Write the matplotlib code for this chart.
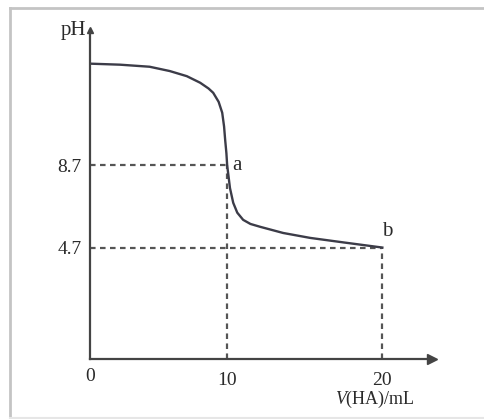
import matplotlib
matplotlib.use('Agg')
matplotlib.rcParams.update({'font.family': 'serif', 'font.serif': ['Liberation Serif'],
                            'mathtext.fontset': 'custom', 'mathtext.it': 'Liberation Serif:italic',
                            'mathtext.rm': 'Liberation Serif', 'font.size': 14})
from matplotlib import pyplot as plt
from matplotlib.lines import Line2D

# titration curve: V(HA) in mL, pH
vol = [1.16, 3.1, 5.0, 6.3, 7.4, 8.26, 8.8, 9.1, 9.45, 9.68, 9.8, 9.87, 9.95, 10.0, 10.06, 10.18, 10.39,
       10.65, 11.03, 11.5, 12.13, 13.61, 15.35, 17.5, 20.0]
ph = [13.66, 13.61, 13.51, 13.3, 13.05, 12.73, 12.45, 12.24, 11.8, 11.27, 10.6, 9.95, 9.3, 8.7, 8.34, 7.6, 6.88,
      6.4, 6.05, 5.85, 5.71, 5.41, 5.17, 4.95, 4.7]
marks = {'a': (10, 8.7), 'b': (20, 4.7)}
xticks = [10, 20]
yticks = [4.7, 8.7]

W, H = 484, 419
fig = plt.figure(figsize=(W/100, H/100), dpi=100)
ax = fig.add_axes([90/W, (H-359)/H, (432-90)/W, (359-30)/H])
ax.set_xlim(1.16, 23.2)
ax.set_ylim(-0.73, 15.3)

axc = '#444444'
txt = '#2a2a2a'
for s in ['top', 'right']:
    ax.spines[s].set_visible(False)
for s in ['left', 'bottom']:
    ax.spines[s].set_color(axc)
    ax.spines[s].set_linewidth(1.6)
ax.plot(1, 0, '>', ms=7, color=axc, transform=ax.transAxes, clip_on=False)
ax.plot(0, 1, '^', ms=5, color=axc, transform=ax.transAxes, clip_on=False)

ax.set_xticks(xticks)
ax.set_yticks(yticks)
ax.set_xticklabels([str(t) for t in xticks])
ax.set_yticklabels([str(t) for t in yticks])
ax.tick_params(axis='x', length=0, colors=txt, labelsize=14, pad=9)
ax.tick_params(axis='y', length=0, colors=txt, labelsize=14, pad=6)
ax.text(0, -0.028, '0', transform=ax.transAxes, ha='center', va='top', fontsize=14, color=txt)
ax.text(-0.01, 1.0, 'pH', transform=ax.transAxes, ha='right', va='center', fontsize=15, color=txt)
ax.text(0.833, -0.122, r'$V$(HA)/mL', transform=ax.transAxes, ha='center', va='center', fontsize=13,
        color=txt)

dash = dict(color='#555555', lw=1.6, ls=(0, (2.5, 2)))
for name, (x, y) in marks.items():
    ax.plot([1.16, x], [y, y], **dash)
    ax.plot([x, x], [-0.73, y], **dash)

ax.plot(vol, ph, color='#3c3c48', lw=1.7)

ax.text(10.35, 8.7, 'a', ha='left', va='center', fontsize=15, color=txt)
ax.text(19.95, 5.0, 'b', ha='left', va='bottom', fontsize=15, color=txt)

# grey frame round the picture
fig.add_artist(Line2D([9.5/W, 9.5/W], [0, 1 - 8/H], color='#c4c4c4', lw=2, transform=fig.transFigure))
fig.add_artist(Line2D([9.5/W, 1], [1 - 8/H, 1 - 8/H], color='#c4c4c4', lw=2, transform=fig.transFigure))
fig.add_artist(Line2D([9.5/W, 1], [1.5/H, 1.5/H], color='#e6e6e6', lw=1.5, transform=fig.transFigure))

plt.savefig('out.png', dpi=100)
